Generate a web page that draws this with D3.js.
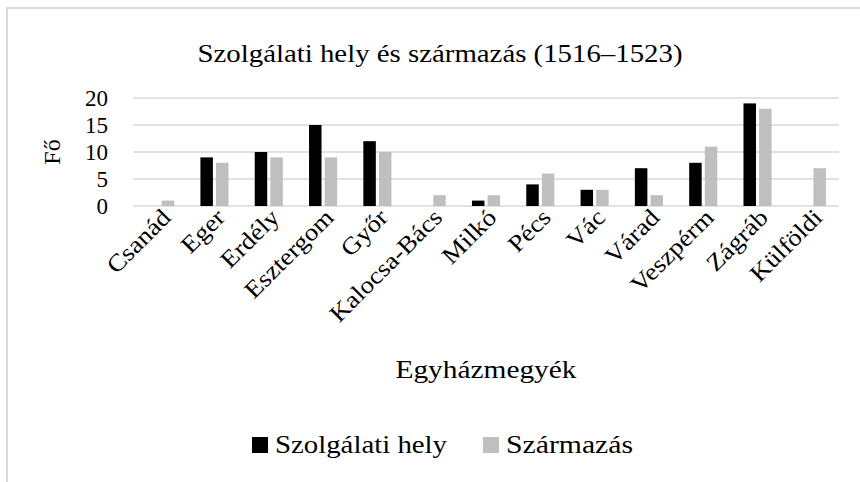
<!DOCTYPE html>
<html>
<head>
<meta charset="utf-8">
<script src="https://cdn.jsdelivr.net/npm/d3@7"></script>
<style>
  body { margin: 0; background: #fff; }
  text { font-family: "Liberation Serif", "DejaVu Serif", serif; fill: #000; }
</style>
</head>
<body>
<svg id="chart" width="860" height="482"></svg>
<script>
// data
var categories = ["Csanád", "Eger", "Erdély", "Esztergom", "Győr", "Kalocsa-Bács",
  "Milkó", "Pécs", "Vác", "Várad", "Veszpérm", "Zágráb", "Külföldi"];
var szolgalati = [0, 9, 10, 15, 12, 0, 1, 4, 3, 7, 8, 19, 0];
var szarmazas = [1, 8, 9, 9, 10, 2, 2, 6, 3, 2, 11, 18, 7];
var yTicks = [0, 5, 10, 15, 20];
var seriesNames = ["Szolgálati hely", "Származás"];
var seriesColors = ["#000000", "#bfbfbf"];

var svg = d3.select("#chart");

// chart frame (right and bottom edges fall outside the picture)
svg.append("rect")
    .attr("x", 7).attr("y", 8)
    .attr("width", 880).attr("height", 500)
    .attr("fill", "none")
    .attr("stroke", "#d9d9d9")
    .attr("stroke-width", 2);

var plot = {left: 133, right: 839, top: 98, bottom: 206};

var x = d3.scaleBand()
    .domain(categories)
    .range([plot.left, plot.right]);

var y = d3.scaleLinear()
    .domain([0, 20])
    .range([plot.bottom, plot.top]);

// two bars per category, small gap between them
var x1 = d3.scaleBand()
    .domain([0, 1])
    .range([0, x.bandwidth()])
    .paddingInner(0.2)
    .paddingOuter(0.84);

// gridlines
svg.append("g")
  .selectAll("line")
  .data(yTicks)
  .enter().append("line")
    .attr("x1", plot.left)
    .attr("x2", plot.right)
    .attr("y1", d => y(d))
    .attr("y2", d => y(d))
    .attr("stroke", "#d9d9d9")
    .attr("stroke-width", 1.3);

// y tick labels
svg.append("g")
  .selectAll("text")
  .data(yTicks)
  .enter().append("text")
    .attr("x", 108)
    .attr("y", d => y(d))
    .attr("dy", "0.35em")
    .attr("text-anchor", "end")
    .style("font-size", "23px")
    .text(d => d);

// bars
var series = [szolgalati, szarmazas];
series.forEach(function(vals, s) {
  svg.append("g")
    .selectAll("rect")
    .data(vals)
    .enter().append("rect")
      .attr("x", (d, i) => x(categories[i]) + x1(s))
      .attr("width", x1.bandwidth())
      .attr("y", d => y(d))
      .attr("height", d => y(0) - y(d))
      .attr("fill", seriesColors[s]);
});

// category labels, rotated; widened a bit since the original face is broader
var catLabels = svg.append("g")
  .selectAll("text")
  .data(categories)
  .enter().append("text")
    .attr("transform", d => "translate(" + (x(d) + x.bandwidth() / 2 + 6) + ",213) rotate(-45)")
    .attr("text-anchor", "end")
    .attr("dy", "0.35em")
    .style("font-size", "24px")
    .text(d => d);
catLabels.each(function() {
  var w = this.getComputedTextLength();
  d3.select(this)
    .attr("textLength", w * 1.12)
    .attr("lengthAdjust", "spacingAndGlyphs");
});

// title, centred on the whole chart area
svg.append("text")
    .attr("x", 440)
    .attr("y", 62)
    .attr("text-anchor", "middle")
    .attr("textLength", 485)
    .attr("lengthAdjust", "spacingAndGlyphs")
    .style("font-size", "26px")
    .text("Szolgálati hely és származás (1516–1523)");

// axis titles
svg.append("text")
    .attr("x", (plot.left + plot.right) / 2)
    .attr("y", 378)
    .attr("text-anchor", "middle")
    .attr("textLength", 181)
    .attr("lengthAdjust", "spacingAndGlyphs")
    .style("font-size", "25px")
    .text("Egyházmegyék");

svg.append("text")
    .attr("transform", "translate(60," + (plot.top + plot.bottom) / 2 + ") rotate(-90)")
    .attr("text-anchor", "middle")
    .style("font-size", "24px")
    .text("Fő");

// legend
var legend = svg.append("g");
var legendX = [252, 483];
var legendW = [172, 127];
seriesNames.forEach(function(name, s) {
  legend.append("rect")
      .attr("x", legendX[s]).attr("y", 437)
      .attr("width", 16).attr("height", 16)
      .attr("fill", seriesColors[s]);
  legend.append("text")
      .attr("x", legendX[s] + 23)
      .attr("y", 453)
      .attr("textLength", legendW[s])
      .attr("lengthAdjust", "spacingAndGlyphs")
      .style("font-size", "25px")
      .text(name);
});
</script>
</body>
</html>
